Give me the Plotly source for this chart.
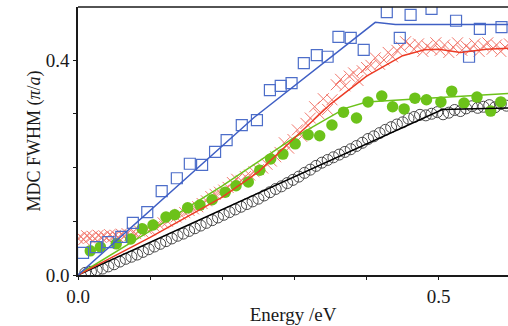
import plotly.graph_objects as go

# ---- data ----
blue_E = [0.007, 0.025, 0.042, 0.060, 0.076, 0.096, 0.116, 0.137, 0.155, 0.172, 0.190, 0.206,
          0.227, 0.248, 0.266, 0.281, 0.296, 0.313, 0.331, 0.346, 0.361, 0.378, 0.396, 0.428,
          0.446, 0.461, 0.490, 0.524, 0.542, 0.557, 0.587]
blue_W = [0.041, 0.052, 0.061, 0.071, 0.097, 0.117, 0.156, 0.180, 0.207, 0.205, 0.229, 0.251,
          0.279, 0.288, 0.344, 0.352, 0.357, 0.394, 0.409, 0.406, 0.443, 0.441, 0.419, 0.489,
          0.441, 0.484, 0.495, 0.473, 0.406, 0.458, 0.461]
blue_fit_E = [0.0, 0.244, 0.412, 0.44, 0.6]
blue_fit_W = [0.0, 0.293, 0.470, 0.466, 0.466]

red_E = [0.000, 0.004, 0.008, 0.012, 0.016, 0.020, 0.024, 0.028, 0.032, 0.036, 0.040, 0.044,
         0.048, 0.052, 0.056, 0.060, 0.064, 0.068, 0.072, 0.076, 0.080, 0.085, 0.090, 0.095,
         0.100, 0.106, 0.112, 0.118, 0.124, 0.130, 0.136, 0.142, 0.148, 0.154, 0.160, 0.166,
         0.172, 0.178, 0.184, 0.190, 0.196, 0.202, 0.208, 0.214, 0.220, 0.226, 0.232, 0.238,
         0.244, 0.250, 0.256, 0.262, 0.268, 0.274, 0.280, 0.286, 0.292, 0.298, 0.304, 0.310,
         0.316, 0.322, 0.328, 0.334, 0.340, 0.346, 0.352, 0.358, 0.364, 0.370, 0.376, 0.382,
         0.388, 0.394, 0.400, 0.406, 0.412, 0.418, 0.424, 0.430, 0.436, 0.442, 0.448, 0.454,
         0.460, 0.466, 0.472, 0.478, 0.484, 0.490, 0.496, 0.502, 0.508, 0.514, 0.520, 0.526,
         0.532, 0.538, 0.544, 0.550, 0.556, 0.562, 0.568, 0.574, 0.580, 0.586, 0.592, 0.598]
red_W = [0.068, 0.071, 0.066, 0.073, 0.069, 0.072, 0.067, 0.074, 0.070, 0.073, 0.069, 0.075,
         0.071, 0.074, 0.070, 0.076, 0.072, 0.077, 0.074, 0.079, 0.077, 0.082, 0.080, 0.086,
         0.084, 0.090, 0.094, 0.097, 0.100, 0.106, 0.108, 0.113, 0.116, 0.120, 0.123, 0.127,
         0.133, 0.138, 0.146, 0.150, 0.154, 0.158, 0.163, 0.172, 0.178, 0.176, 0.183, 0.186,
         0.192, 0.196, 0.199, 0.206, 0.212, 0.220, 0.228, 0.246, 0.236, 0.252, 0.270, 0.258,
         0.282, 0.292, 0.313, 0.300, 0.328, 0.308, 0.326, 0.354, 0.364, 0.352, 0.370, 0.376,
         0.362, 0.380, 0.386, 0.390, 0.404, 0.392, 0.400, 0.414, 0.406, 0.418, 0.424, 0.434,
         0.428, 0.420, 0.430, 0.416, 0.426, 0.420, 0.432, 0.418, 0.428, 0.414, 0.424, 0.432,
         0.418, 0.426, 0.420, 0.430, 0.416, 0.426, 0.432, 0.420, 0.428, 0.416, 0.424, 0.430]
red_fit_E = [0.0, 0.10, 0.20, 0.25, 0.30, 0.35, 0.40, 0.45, 0.48, 0.50, 0.53, 0.566, 0.6]
red_fit_W = [0.0, 0.070, 0.145, 0.192, 0.255, 0.318, 0.370, 0.408, 0.419, 0.420, 0.414, 0.420, 0.422]

green_E = [0.017, 0.031, 0.053, 0.073, 0.089, 0.104, 0.122, 0.134, 0.152, 0.169, 0.186, 0.204,
           0.219, 0.236, 0.252, 0.267, 0.284, 0.301, 0.319, 0.335, 0.352, 0.368, 0.386, 0.402,
           0.421, 0.436, 0.452, 0.467, 0.483, 0.503, 0.518, 0.535, 0.553, 0.572, 0.586]
green_W = [0.045, 0.052, 0.058, 0.067, 0.086, 0.093, 0.108, 0.112, 0.125, 0.130, 0.140, 0.154,
           0.166, 0.173, 0.195, 0.216, 0.225, 0.244, 0.261, 0.259, 0.279, 0.303, 0.292, 0.322,
           0.333, 0.313, 0.309, 0.329, 0.326, 0.322, 0.342, 0.320, 0.331, 0.305, 0.322]
green_fit_E = [0.0, 0.10, 0.20, 0.30, 0.37, 0.40, 0.45, 0.6]
green_fit_W = [0.0, 0.082, 0.166, 0.256, 0.310, 0.322, 0.326, 0.338]

black_E = [0.010, 0.018, 0.026, 0.034, 0.042, 0.050, 0.058, 0.066, 0.074, 0.082, 0.090, 0.098,
           0.106, 0.114, 0.122, 0.130, 0.138, 0.146, 0.154, 0.162, 0.170, 0.178, 0.186, 0.194,
           0.202, 0.210, 0.218, 0.226, 0.234, 0.242, 0.250, 0.258, 0.266, 0.274, 0.282, 0.290,
           0.298, 0.306, 0.314, 0.322, 0.330, 0.338, 0.346, 0.354, 0.362, 0.370, 0.378, 0.386,
           0.394, 0.402, 0.410, 0.418, 0.426, 0.434, 0.442, 0.450, 0.458, 0.466, 0.474, 0.482,
           0.490, 0.498, 0.506, 0.514, 0.522, 0.530, 0.538, 0.546, 0.554, 0.562, 0.570, 0.578,
           0.586, 0.594]
black_W = [0.004, 0.006, 0.009, 0.012, 0.016, 0.020, 0.025, 0.030, 0.034, 0.038, 0.043, 0.048,
           0.053, 0.058, 0.063, 0.068, 0.073, 0.077, 0.082, 0.087, 0.092, 0.097, 0.102, 0.107,
           0.112, 0.117, 0.122, 0.127, 0.132, 0.137, 0.142, 0.148, 0.154, 0.160, 0.165, 0.171,
           0.177, 0.183, 0.190, 0.196, 0.203, 0.209, 0.214, 0.219, 0.224, 0.229, 0.234, 0.240,
           0.246, 0.253, 0.258, 0.264, 0.270, 0.275, 0.280, 0.284, 0.291, 0.294, 0.298, 0.297,
           0.300, 0.303, 0.299, 0.302, 0.307, 0.305, 0.310, 0.314, 0.311, 0.313, 0.316, 0.312,
           0.318, 0.315]
black_fit_E = [0.0, 0.505, 0.6]
black_fit_W = [0.0, 0.308, 0.311]

x_ticks = [0.0, 0.1, 0.2, 0.3, 0.4, 0.5]
x_labels = ["0.0", "", "", "", "", "0.5"]
y_ticks = [0.0, 0.1, 0.2, 0.3, 0.4]
y_labels = ["0.0", "", "", "", "0.4"]

BLUE = "#4d6ec9"
BLUE_L = "#3f5fc4"
RED_M = "#f2776c"
RED_L = "#ec3b25"
GREEN = "#6cc21a"
BLACK_M = "#4a4a4a"

fig = go.Figure()
# markers
fig.add_trace(go.Scatter(x=black_E, y=black_W, mode="markers",
                         marker=dict(symbol="circle-open", size=11, color=BLACK_M,
                                     line=dict(width=1, color=BLACK_M))))
fig.add_trace(go.Scatter(x=red_E, y=red_W, mode="markers",
                         marker=dict(symbol="x-thin-open", size=11, color=RED_M,
                                     line=dict(width=1, color=RED_M))))
fig.add_trace(go.Scatter(x=green_E, y=green_W, mode="markers",
                         marker=dict(symbol="circle", size=11.5, color=GREEN,
                                     line=dict(width=0))))
fig.add_trace(go.Scatter(x=blue_E, y=blue_W, mode="markers",
                         marker=dict(symbol="square-open", size=11, color=BLUE,
                                     line=dict(width=1.2, color=BLUE))))
# fit lines
fig.add_trace(go.Scatter(x=black_fit_E, y=black_fit_W, mode="lines",
                         line=dict(color="#000000", width=1.5)))
fig.add_trace(go.Scatter(x=green_fit_E, y=green_fit_W, mode="lines",
                         line=dict(color=GREEN, width=1.5)))
fig.add_trace(go.Scatter(x=red_fit_E, y=red_fit_W, mode="lines",
                         line=dict(color=RED_L, width=1.5)))
fig.add_trace(go.Scatter(x=blue_fit_E, y=blue_fit_W, mode="lines",
                         line=dict(color=BLUE_L, width=1.5)))

FONT = "Liberation Serif"
fig.update_layout(
    width=508, height=326,
    margin=dict(l=78, r=0, t=7, b=51),
    paper_bgcolor="white", plot_bgcolor="white",
    showlegend=False,
    font=dict(family=FONT, size=19, color="#1a1a1a"),
    xaxis=dict(range=[0, 0.596], tickvals=x_ticks, ticktext=x_labels,
               showgrid=False, zeroline=False, showline=True, linecolor="#1a1a1a",
               linewidth=1.6, mirror=False, ticks="outside", ticklen=3, tickwidth=1,
               tickcolor="#1a1a1a",
               title=dict(text="Energy /eV", standoff=2, font=dict(size=19))),
    yaxis=dict(range=[0, 0.4986], tickvals=y_ticks, ticktext=y_labels,
               showgrid=False, zeroline=False, showline=True, linecolor="#1a1a1a",
               linewidth=1.6, ticks="outside", ticklen=3, tickwidth=1, tickcolor="#1a1a1a",
               title=dict(text="MDC FWHM (<i>π</i>/<i>a</i>)", standoff=0, font=dict(size=18))),
)
# top frame line
fig.add_shape(type="line", xref="paper", yref="paper", x0=0, x1=1, y0=1, y1=1,
              line=dict(color="#1a1a1a", width=1.6))

fig.write_html("out.html")
